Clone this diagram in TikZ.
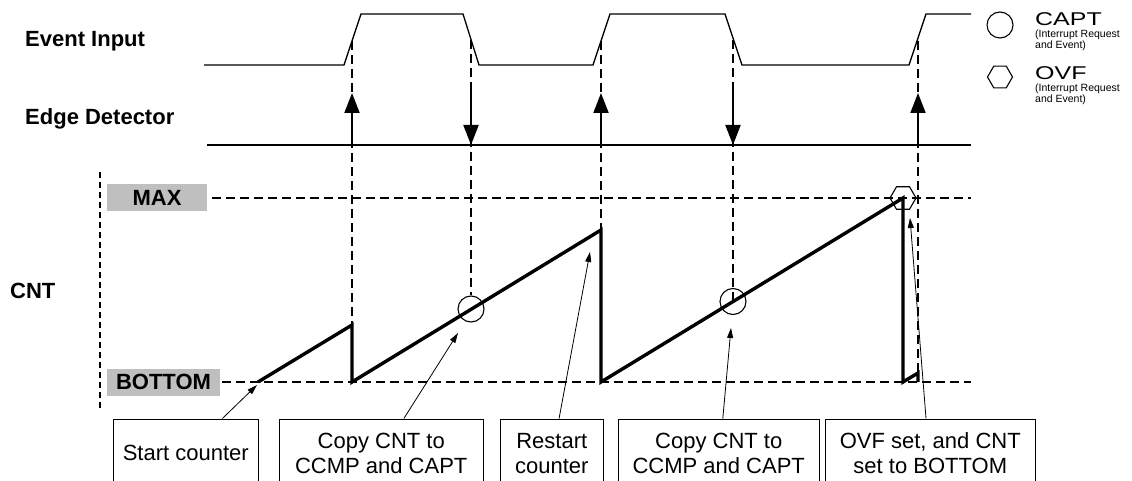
\documentclass[tikz,border=0pt]{standalone}
\usepackage{fontspec}
\setmainfont{Liberation Sans}
\usepackage{graphicx}
\usetikzlibrary{arrows.meta,calc,positioning,shapes.geometric}

\begin{document}
\begin{tikzpicture}[x=1pt,y=-1pt,>=Latex,
  sig/.style={line width=1.3pt},
  guide/.style={line width=1.1pt,dash pattern=on 9pt off 5pt},
  cntline/.style={line width=3.4pt,line join=miter},
  edgearrow/.style={line width=2pt,-{Triangle[length=20pt,width=15pt]}},
  note/.style={line width=0.8pt,-{Triangle[length=10pt,width=6pt]}},
  rowlabel/.style={font=\fontsize{22}{26}\selectfont\bfseries,anchor=base west,inner sep=0pt},
  level/.style={fill=black!25,font=\fontsize{22}{26}\selectfont\bfseries,inner sep=0pt,minimum height=27pt},
  infobox/.style={draw,line width=1.5pt,align=center,font=\fontsize{22}{25}\selectfont,minimum height=68pt,inner sep=0pt,anchor=north west},
  capt/.style={circle,draw,line width=1.1pt,minimum size=26pt,inner sep=0pt},
  ovf/.style={regular polygon,regular polygon sides=6,draw,line width=1.1pt,minimum size=26pt,inner sep=0pt},
  legbig/.style={anchor=base west,inner sep=0pt,font=\fontsize{18.5}{18}\selectfont},
  legsmall/.style={anchor=north west,inner sep=0pt,align=left,font=\fontsize{10.5}{9.5}\selectfont}]
  \clip (0,0) rectangle (1132,481);

  % row labels
  \node[rowlabel] (lblin) at (25,47) {Event Input};
  \node[rowlabel] (lbledge) at (25,125) {Edge Detector};
  \node[rowlabel] (lblcnt) at (10,298) {CNT};
  \node[level,minimum width=100pt] (max) at (157,198) {MAX};
  \node[level,minimum width=113pt] (bottom) at (163.5,382) {BOTTOM};

  % edges of the input
  \coordinate (ev1) at (352,41);
  \coordinate (ev2) at (471,40);
  \coordinate (ev3) at (601,41);
  \coordinate (ev4) at (733,40);
  \coordinate (ev5) at (918,41);
  \coordinate (ed1) at (352,145);
  \coordinate (ed2) at (471,145);
  \coordinate (ed3) at (601,145);
  \coordinate (ed4) at (733,145);
  \coordinate (ed5) at (918,145);

  % counter
  \coordinate (s0) at (258,382);
  \coordinate (p1) at (352,325);
  \coordinate (b1) at (352,382);
  \coordinate (p2) at (601,230);
  \coordinate (b2) at (601,382);
  \coordinate (p3) at (903,198);
  \coordinate (b3) at (903,382);
  \coordinate (r3) at (918,373);
  \coordinate (b4) at (918,382);
  \coordinate (maxend) at (971,198);
  \coordinate (botend) at (971,382);
  \coordinate (axtop) at (100,172);
  \coordinate (axbot) at (100,408);

  % input signal
  \draw[sig] (204,65) -- (344,65) -- (361,14) -- (463,14) -- (479,65) -- (593,65)
    -- (610,14) -- (725,14) -- (742,65) -- (909,65) -- (926,14) -- (971,14);
  \draw[sig] (207,145) -- (971,145);

  % levels
  \draw[guide] ([xshift=5pt]max.east) -- (maxend);
  \draw[guide] ([xshift=2pt]bottom.east) -- (botend);
  \draw[line width=2pt,dash pattern=on 6pt off 4pt] (axtop) -- (axbot);

  % captures
  \node[capt] (c1) at (471,309) {};
  \node[capt] (c2) at (733,301.5) {};
  \node[ovf] (o1) at (p3) {};

  % guide lines
  \draw[guide] (ev1) -- (p1);
  \draw[guide] (ev2) -- (c1.north);
  \draw[guide] (ev3) -- (p2);
  \draw[guide] (ev4) -- (c2.center);
  \draw[guide] (ev5) -- (b4);

  % edge detector
  \draw[edgearrow] (ed1) -- ($(ed1)+(0,-52)$);
  \draw[edgearrow] ($(ed2)+(0,-55)$) -- (ed2);
  \draw[edgearrow] (ed3) -- ($(ed3)+(0,-52)$);
  \draw[edgearrow] ($(ed4)+(0,-55)$) -- (ed4);
  \draw[edgearrow] (ed5) -- ($(ed5)+(0,-52)$);

  \draw[cntline] (s0) -- (p1) -- (b1) -- (p2) -- (b2) -- (p3) -- (b3) -- (r3) -- (b4);

  % legend
  \node[capt] (lgcapt) at (1000,25) {};
  \node[legbig] (lgcapttxt) at (1035,26) {\scalebox{1.35}[1]{CAPT}};
  \node[legsmall] (lgcaptsub) at (1035,30) {(Interrupt Request\\and Event)};
  \node[ovf,minimum size=25pt] (lgovf) at (1000,77) {};
  \node[legbig] (lgovftxt) at (1035,80) {\scalebox{1.35}[1]{OVF}};
  \node[legsmall,font=\fontsize{10.5}{10.5}\selectfont] (lgovfsub) at (1035,84) {(Interrupt Request\\and Event)};

  % notes
  \node[infobox,minimum width=145pt] (info1) at (112.5,418.5) {Start counter};
  \node[infobox,minimum width=204pt] (info2) at (278.5,418.5) {Copy CNT to\\CCMP and CAPT};
  \node[infobox,minimum width=103pt] (info3) at (499.5,418.5) {Restart\\counter};
  \node[infobox,minimum width=201pt] (info4) at (617.5,418.5) {Copy CNT to\\CCMP and CAPT};
  \node[infobox,minimum width=210pt] (info5) at (824.5,418.5) {OVF set, and CNT\\set to BOTTOM};
  \coordinate (t1) at (257,385);
  \coordinate (t2) at (458,333);
  \coordinate (t3) at (590,252);
  \coordinate (t4) at (731,328);
  \coordinate (t5) at (910,218);
  \draw[note] ($(info1.north west)!0.75!(info1.north east)$) -- (t1);
  \draw[note] ($(info2.north west)!0.61!(info2.north east)$) -- (t2);
  \draw[note] ($(info3.north west)!0.57!(info3.north east)$) -- (t3);
  \draw[note] ($(info4.north west)!0.52!(info4.north east)$) -- (t4);
  \draw[note] ($(info5.north west)!0.48!(info5.north east)$) -- (t5);
\end{tikzpicture}
\end{document}
